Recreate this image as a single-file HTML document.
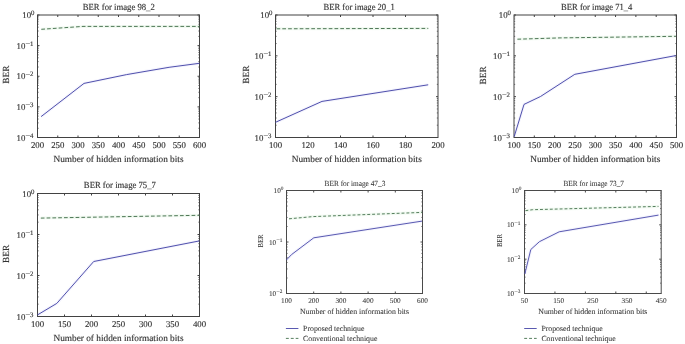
<!DOCTYPE html>
<html><head><meta charset="utf-8"><style>
html,body{margin:0;padding:0;background:#fff;width:685px;height:344px;overflow:hidden}
svg{display:block;text-rendering:geometricPrecision}
text{font-family:'Liberation Serif', 'DejaVu Serif', serif;fill:#333333;stroke:#333333;stroke-width:0.15px}
.s text,text.s{fill:#3a3a3a;stroke:#3a3a3a;stroke-width:0.08px}
</style></head><body>
<svg width="685" height="344" viewBox="0 0 685 344">
<rect width="685" height="344" fill="#fff"/>
<g class="b">
<rect x="37.5" y="15" width="162" height="122.5" fill="none" stroke="#424242" stroke-width="1"/>
<path d="M57.75 137.5V135.5M57.75 15V17M78 137.5V135.5M78 15V17M98.25 137.5V135.5M98.25 15V17M118.5 137.5V135.5M118.5 15V17M138.75 137.5V135.5M138.75 15V17M159 137.5V135.5M159 15V17M179.25 137.5V135.5M179.25 15V17M37.5 15H39.5M199.5 15H197.5M37.5 45.62H39.5M199.5 45.62H197.5M37.5 76.25H39.5M199.5 76.25H197.5M37.5 106.88H39.5M199.5 106.88H197.5M37.5 137.5H39.5M199.5 137.5H197.5" stroke="#424242" stroke-width="1" fill="none"/>
<path d="M37.5 36.41H38.7M199.5 36.41H198.3M37.5 31.01H38.7M199.5 31.01H198.3M37.5 27.19H38.7M199.5 27.19H198.3M37.5 24.22H38.7M199.5 24.22H198.3M37.5 21.79H38.7M199.5 21.79H198.3M37.5 19.74H38.7M199.5 19.74H198.3M37.5 17.97H38.7M199.5 17.97H198.3M37.5 16.4H38.7M199.5 16.4H198.3M37.5 67.03H38.7M199.5 67.03H198.3M37.5 61.64H38.7M199.5 61.64H198.3M37.5 57.81H38.7M199.5 57.81H198.3M37.5 54.84H38.7M199.5 54.84H198.3M37.5 52.42H38.7M199.5 52.42H198.3M37.5 50.37H38.7M199.5 50.37H198.3M37.5 48.59H38.7M199.5 48.59H198.3M37.5 47.03H38.7M199.5 47.03H198.3M37.5 97.66H38.7M199.5 97.66H198.3M37.5 92.26H38.7M199.5 92.26H198.3M37.5 88.44H38.7M199.5 88.44H198.3M37.5 85.47H38.7M199.5 85.47H198.3M37.5 83.04H38.7M199.5 83.04H198.3M37.5 80.99H38.7M199.5 80.99H198.3M37.5 79.22H38.7M199.5 79.22H198.3M37.5 77.65H38.7M199.5 77.65H198.3M37.5 128.28H38.7M199.5 128.28H198.3M37.5 122.89H38.7M199.5 122.89H198.3M37.5 119.06H38.7M199.5 119.06H198.3M37.5 116.09H38.7M199.5 116.09H198.3M37.5 113.67H38.7M199.5 113.67H198.3M37.5 111.62H38.7M199.5 111.62H198.3M37.5 109.84H38.7M199.5 109.84H198.3M37.5 108.28H38.7M199.5 108.28H198.3" stroke="#424242" stroke-width="0.7" fill="none"/>
<polyline points="41.3,29.3 83,26.4 199.5,26.4" fill="none" stroke="rgba(110,200,110,0.09)" stroke-width="3"/>
<polyline points="41.1,116.6 84,83.4 126.6,74.6 169.1,67.3 199.5,63.3" fill="none" stroke="rgba(120,120,230,0.08)" stroke-width="3" stroke-linejoin="round"/>
<polyline points="41.3,29.3 83,26.4 199.5,26.4" fill="none" stroke="#44704d" stroke-width="0.95" stroke-dasharray="3.7 2.1"/>
<polyline points="41.1,116.6 84,83.4 126.6,74.6 169.1,67.3 199.5,63.3" fill="none" stroke="#4747a8" stroke-width="0.95" stroke-linejoin="round"/>
<text x="37.5" y="148.1" font-size="8.8" text-anchor="middle">200</text>
<text x="57.75" y="148.1" font-size="8.8" text-anchor="middle">250</text>
<text x="78" y="148.1" font-size="8.8" text-anchor="middle">300</text>
<text x="98.25" y="148.1" font-size="8.8" text-anchor="middle">350</text>
<text x="118.5" y="148.1" font-size="8.8" text-anchor="middle">400</text>
<text x="138.75" y="148.1" font-size="8.8" text-anchor="middle">450</text>
<text x="159" y="148.1" font-size="8.8" text-anchor="middle">500</text>
<text x="179.25" y="148.1" font-size="8.8" text-anchor="middle">550</text>
<text x="199.5" y="148.1" font-size="8.8" text-anchor="middle">600</text>
<text x="34.5" y="18" font-size="8.8" text-anchor="end">10<tspan font-size="6.8" dy="-3">0</tspan></text>
<text x="33.5" y="48.62" font-size="8.8" text-anchor="end">10<tspan font-size="8.3" dy="-2.4">−</tspan><tspan font-size="6.8" dy="-0.6">1</tspan></text>
<text x="33.5" y="79.25" font-size="8.8" text-anchor="end">10<tspan font-size="8.3" dy="-2.4">−</tspan><tspan font-size="6.8" dy="-0.6">2</tspan></text>
<text x="33.5" y="109.88" font-size="8.8" text-anchor="end">10<tspan font-size="8.3" dy="-2.4">−</tspan><tspan font-size="6.8" dy="-0.6">3</tspan></text>
<text x="33.5" y="140.5" font-size="8.8" text-anchor="end">10<tspan font-size="8.3" dy="-2.4">−</tspan><tspan font-size="6.8" dy="-0.6">4</tspan></text>
<text x="118.75" y="9.5" font-size="9.3" text-anchor="middle" textLength="72" lengthAdjust="spacingAndGlyphs">BER for image 98_2</text>
<text x="118.5" y="162.2" font-size="9.3" text-anchor="middle">Number of hidden information bits</text>
<text transform="translate(9.1,74.6) rotate(-90)" font-size="9.3" text-anchor="middle">BER</text>
</g>
<g class="b">
<rect x="275.5" y="15" width="162.5" height="122.5" fill="none" stroke="#424242" stroke-width="1"/>
<path d="M308 137.5V135.5M308 15V17M340.5 137.5V135.5M340.5 15V17M373 137.5V135.5M373 15V17M405.5 137.5V135.5M405.5 15V17M275.5 15H277.5M438 15H436M275.5 55.83H277.5M438 55.83H436M275.5 96.67H277.5M438 96.67H436M275.5 137.5H277.5M438 137.5H436" stroke="#424242" stroke-width="1" fill="none"/>
<path d="M275.5 43.54H276.7M438 43.54H436.8M275.5 36.35H276.7M438 36.35H436.8M275.5 31.25H276.7M438 31.25H436.8M275.5 27.29H276.7M438 27.29H436.8M275.5 24.06H276.7M438 24.06H436.8M275.5 21.33H276.7M438 21.33H436.8M275.5 18.96H276.7M438 18.96H436.8M275.5 16.87H276.7M438 16.87H436.8M275.5 84.37H276.7M438 84.37H436.8M275.5 77.18H276.7M438 77.18H436.8M275.5 72.08H276.7M438 72.08H436.8M275.5 68.13H276.7M438 68.13H436.8M275.5 64.89H276.7M438 64.89H436.8M275.5 62.16H276.7M438 62.16H436.8M275.5 59.79H276.7M438 59.79H436.8M275.5 57.7H276.7M438 57.7H436.8M275.5 125.21H276.7M438 125.21H436.8M275.5 118.02H276.7M438 118.02H436.8M275.5 112.92H276.7M438 112.92H436.8M275.5 108.96H276.7M438 108.96H436.8M275.5 105.73H276.7M438 105.73H436.8M275.5 102.99H276.7M438 102.99H436.8M275.5 100.62H276.7M438 100.62H436.8M275.5 98.54H276.7M438 98.54H436.8" stroke="#424242" stroke-width="0.7" fill="none"/>
<polyline points="276.5,28.8 428.3,28.4" fill="none" stroke="rgba(110,200,110,0.09)" stroke-width="3"/>
<polyline points="275.5,122.3 322,101.4 428.2,84.8" fill="none" stroke="rgba(120,120,230,0.08)" stroke-width="3" stroke-linejoin="round"/>
<polyline points="276.5,28.8 428.3,28.4" fill="none" stroke="#44704d" stroke-width="0.95" stroke-dasharray="3.7 2.1"/>
<polyline points="275.5,122.3 322,101.4 428.2,84.8" fill="none" stroke="#4747a8" stroke-width="0.95" stroke-linejoin="round"/>
<text x="275.5" y="148.1" font-size="8.8" text-anchor="middle">100</text>
<text x="308" y="148.1" font-size="8.8" text-anchor="middle">120</text>
<text x="340.5" y="148.1" font-size="8.8" text-anchor="middle">140</text>
<text x="373" y="148.1" font-size="8.8" text-anchor="middle">160</text>
<text x="405.5" y="148.1" font-size="8.8" text-anchor="middle">180</text>
<text x="438" y="148.1" font-size="8.8" text-anchor="middle">200</text>
<text x="272.5" y="18" font-size="8.8" text-anchor="end">10<tspan font-size="6.8" dy="-3">0</tspan></text>
<text x="271.5" y="58.83" font-size="8.8" text-anchor="end">10<tspan font-size="8.3" dy="-2.4">−</tspan><tspan font-size="6.8" dy="-0.6">1</tspan></text>
<text x="271.5" y="99.67" font-size="8.8" text-anchor="end">10<tspan font-size="8.3" dy="-2.4">−</tspan><tspan font-size="6.8" dy="-0.6">2</tspan></text>
<text x="271.5" y="140.5" font-size="8.8" text-anchor="end">10<tspan font-size="8.3" dy="-2.4">−</tspan><tspan font-size="6.8" dy="-0.6">3</tspan></text>
<text x="359.15" y="9.5" font-size="9.3" text-anchor="middle" textLength="71.2" lengthAdjust="spacingAndGlyphs">BER for image 20_1</text>
<text x="356.75" y="162.2" font-size="9.3" text-anchor="middle">Number of hidden information bits</text>
<text transform="translate(248.7,74.6) rotate(-90)" font-size="9.3" text-anchor="middle">BER</text>
</g>
<g class="b">
<rect x="514" y="15" width="162.5" height="122.5" fill="none" stroke="#424242" stroke-width="1"/>
<path d="M534.31 137.5V135.5M534.31 15V17M554.62 137.5V135.5M554.62 15V17M574.94 137.5V135.5M574.94 15V17M595.25 137.5V135.5M595.25 15V17M615.56 137.5V135.5M615.56 15V17M635.88 137.5V135.5M635.88 15V17M656.19 137.5V135.5M656.19 15V17M514 15H516M676.5 15H674.5M514 55.83H516M676.5 55.83H674.5M514 96.67H516M676.5 96.67H674.5M514 137.5H516M676.5 137.5H674.5" stroke="#424242" stroke-width="1" fill="none"/>
<path d="M514 43.54H515.2M676.5 43.54H675.3M514 36.35H515.2M676.5 36.35H675.3M514 31.25H515.2M676.5 31.25H675.3M514 27.29H515.2M676.5 27.29H675.3M514 24.06H515.2M676.5 24.06H675.3M514 21.33H515.2M676.5 21.33H675.3M514 18.96H515.2M676.5 18.96H675.3M514 16.87H515.2M676.5 16.87H675.3M514 84.37H515.2M676.5 84.37H675.3M514 77.18H515.2M676.5 77.18H675.3M514 72.08H515.2M676.5 72.08H675.3M514 68.13H515.2M676.5 68.13H675.3M514 64.89H515.2M676.5 64.89H675.3M514 62.16H515.2M676.5 62.16H675.3M514 59.79H515.2M676.5 59.79H675.3M514 57.7H515.2M676.5 57.7H675.3M514 125.21H515.2M676.5 125.21H675.3M514 118.02H515.2M676.5 118.02H675.3M514 112.92H515.2M676.5 112.92H675.3M514 108.96H515.2M676.5 108.96H675.3M514 105.73H515.2M676.5 105.73H675.3M514 102.99H515.2M676.5 102.99H675.3M514 100.62H515.2M676.5 100.62H675.3M514 98.54H515.2M676.5 98.54H675.3" stroke="#424242" stroke-width="0.7" fill="none"/>
<polyline points="517.4,39.2 560,37.9 675.8,36.3" fill="none" stroke="rgba(110,200,110,0.09)" stroke-width="3"/>
<polyline points="514.2,136.6 524,104.4 540.5,96.5 574.8,74.3 675.8,55.6" fill="none" stroke="rgba(120,120,230,0.08)" stroke-width="3" stroke-linejoin="round"/>
<polyline points="517.4,39.2 560,37.9 675.8,36.3" fill="none" stroke="#44704d" stroke-width="0.95" stroke-dasharray="3.7 2.1"/>
<polyline points="514.2,136.6 524,104.4 540.5,96.5 574.8,74.3 675.8,55.6" fill="none" stroke="#4747a8" stroke-width="0.95" stroke-linejoin="round"/>
<text x="514" y="148.1" font-size="8.8" text-anchor="middle">100</text>
<text x="534.31" y="148.1" font-size="8.8" text-anchor="middle">150</text>
<text x="554.62" y="148.1" font-size="8.8" text-anchor="middle">200</text>
<text x="574.94" y="148.1" font-size="8.8" text-anchor="middle">250</text>
<text x="595.25" y="148.1" font-size="8.8" text-anchor="middle">300</text>
<text x="615.56" y="148.1" font-size="8.8" text-anchor="middle">350</text>
<text x="635.88" y="148.1" font-size="8.8" text-anchor="middle">400</text>
<text x="656.19" y="148.1" font-size="8.8" text-anchor="middle">450</text>
<text x="676.5" y="148.1" font-size="8.8" text-anchor="middle">500</text>
<text x="511" y="18" font-size="8.8" text-anchor="end">10<tspan font-size="6.8" dy="-3">0</tspan></text>
<text x="510" y="58.83" font-size="8.8" text-anchor="end">10<tspan font-size="8.3" dy="-2.4">−</tspan><tspan font-size="6.8" dy="-0.6">1</tspan></text>
<text x="510" y="99.67" font-size="8.8" text-anchor="end">10<tspan font-size="8.3" dy="-2.4">−</tspan><tspan font-size="6.8" dy="-0.6">2</tspan></text>
<text x="510" y="140.5" font-size="8.8" text-anchor="end">10<tspan font-size="8.3" dy="-2.4">−</tspan><tspan font-size="6.8" dy="-0.6">3</tspan></text>
<text x="596.7" y="9.5" font-size="9.3" text-anchor="middle" textLength="71.3" lengthAdjust="spacingAndGlyphs">BER for image 71_4</text>
<text x="595.25" y="162.2" font-size="9.3" text-anchor="middle">Number of hidden information bits</text>
<text transform="translate(486.2,75.4) rotate(-90)" font-size="9.3" text-anchor="middle">BER</text>
</g>
<g class="b">
<rect x="37.5" y="193.5" width="162" height="123" fill="none" stroke="#424242" stroke-width="1"/>
<path d="M64.5 316.5V314.5M64.5 193.5V195.5M91.5 316.5V314.5M91.5 193.5V195.5M118.5 316.5V314.5M118.5 193.5V195.5M145.5 316.5V314.5M145.5 193.5V195.5M172.5 316.5V314.5M172.5 193.5V195.5M37.5 193.5H39.5M199.5 193.5H197.5M37.5 234.5H39.5M199.5 234.5H197.5M37.5 275.5H39.5M199.5 275.5H197.5M37.5 316.5H39.5M199.5 316.5H197.5" stroke="#424242" stroke-width="1" fill="none"/>
<path d="M37.5 222.16H38.7M199.5 222.16H198.3M37.5 214.94H38.7M199.5 214.94H198.3M37.5 209.82H38.7M199.5 209.82H198.3M37.5 205.84H38.7M199.5 205.84H198.3M37.5 202.6H38.7M199.5 202.6H198.3M37.5 199.85H38.7M199.5 199.85H198.3M37.5 197.47H38.7M199.5 197.47H198.3M37.5 195.38H38.7M199.5 195.38H198.3M37.5 263.16H38.7M199.5 263.16H198.3M37.5 255.94H38.7M199.5 255.94H198.3M37.5 250.82H38.7M199.5 250.82H198.3M37.5 246.84H38.7M199.5 246.84H198.3M37.5 243.6H38.7M199.5 243.6H198.3M37.5 240.85H38.7M199.5 240.85H198.3M37.5 238.47H38.7M199.5 238.47H198.3M37.5 236.38H38.7M199.5 236.38H198.3M37.5 304.16H38.7M199.5 304.16H198.3M37.5 296.94H38.7M199.5 296.94H198.3M37.5 291.82H38.7M199.5 291.82H198.3M37.5 287.84H38.7M199.5 287.84H198.3M37.5 284.6H38.7M199.5 284.6H198.3M37.5 281.85H38.7M199.5 281.85H198.3M37.5 279.47H38.7M199.5 279.47H198.3M37.5 277.38H38.7M199.5 277.38H198.3" stroke="#424242" stroke-width="0.7" fill="none"/>
<polyline points="40.8,218.1 199.5,215.3" fill="none" stroke="rgba(110,200,110,0.09)" stroke-width="3"/>
<polyline points="37.5,314.9 56.8,303.4 93.7,261.5 199.5,240.9" fill="none" stroke="rgba(120,120,230,0.08)" stroke-width="3" stroke-linejoin="round"/>
<polyline points="40.8,218.1 199.5,215.3" fill="none" stroke="#44704d" stroke-width="0.95" stroke-dasharray="3.7 2.1"/>
<polyline points="37.5,314.9 56.8,303.4 93.7,261.5 199.5,240.9" fill="none" stroke="#4747a8" stroke-width="0.95" stroke-linejoin="round"/>
<text x="37.5" y="327.1" font-size="8.8" text-anchor="middle">100</text>
<text x="64.5" y="327.1" font-size="8.8" text-anchor="middle">150</text>
<text x="91.5" y="327.1" font-size="8.8" text-anchor="middle">200</text>
<text x="118.5" y="327.1" font-size="8.8" text-anchor="middle">250</text>
<text x="145.5" y="327.1" font-size="8.8" text-anchor="middle">300</text>
<text x="172.5" y="327.1" font-size="8.8" text-anchor="middle">350</text>
<text x="199.5" y="327.1" font-size="8.8" text-anchor="middle">400</text>
<text x="34.5" y="196.5" font-size="8.8" text-anchor="end">10<tspan font-size="6.8" dy="-3">0</tspan></text>
<text x="33.5" y="237.5" font-size="8.8" text-anchor="end">10<tspan font-size="8.3" dy="-2.4">−</tspan><tspan font-size="6.8" dy="-0.6">1</tspan></text>
<text x="33.5" y="278.5" font-size="8.8" text-anchor="end">10<tspan font-size="8.3" dy="-2.4">−</tspan><tspan font-size="6.8" dy="-0.6">2</tspan></text>
<text x="33.5" y="319.5" font-size="8.8" text-anchor="end">10<tspan font-size="8.3" dy="-2.4">−</tspan><tspan font-size="6.8" dy="-0.6">3</tspan></text>
<text x="119.85" y="188" font-size="9.3" text-anchor="middle" textLength="72" lengthAdjust="spacingAndGlyphs">BER for image 75_7</text>
<text x="118.5" y="341.2" font-size="9.3" text-anchor="middle">Number of hidden information bits</text>
<text transform="translate(9.2,253.9) rotate(-90)" font-size="9.3" text-anchor="middle">BER</text>
</g>
<g class="s">
<rect x="286.5" y="190.5" width="136" height="103" fill="none" stroke="#4a4a4a" stroke-width="1"/>
<path d="M313.7 293.5V291.5M313.7 190.5V192.5M340.9 293.5V291.5M340.9 190.5V192.5M368.1 293.5V291.5M368.1 190.5V192.5M395.3 293.5V291.5M395.3 190.5V192.5M286.5 190.5H288.5M422.5 190.5H420.5M286.5 242H288.5M422.5 242H420.5M286.5 293.5H288.5M422.5 293.5H420.5" stroke="#4a4a4a" stroke-width="1" fill="none"/>
<path d="M286.5 226.5H287.7M422.5 226.5H421.3M286.5 217.43H287.7M422.5 217.43H421.3M286.5 210.99H287.7M422.5 210.99H421.3M286.5 206H287.7M422.5 206H421.3M286.5 201.93H287.7M422.5 201.93H421.3M286.5 198.48H287.7M422.5 198.48H421.3M286.5 195.49H287.7M422.5 195.49H421.3M286.5 192.86H287.7M422.5 192.86H421.3M286.5 278H287.7M422.5 278H421.3M286.5 268.93H287.7M422.5 268.93H421.3M286.5 262.49H287.7M422.5 262.49H421.3M286.5 257.5H287.7M422.5 257.5H421.3M286.5 253.43H287.7M422.5 253.43H421.3M286.5 249.98H287.7M422.5 249.98H421.3M286.5 246.99H287.7M422.5 246.99H421.3M286.5 244.36H287.7M422.5 244.36H421.3" stroke="#4a4a4a" stroke-width="0.7" fill="none"/>
<polyline points="289,218.8 313,216.6 422.1,212.4" fill="none" stroke="rgba(110,200,110,0.09)" stroke-width="3"/>
<polyline points="286.5,259.9 291.5,254.6 313.8,237.8 422.1,221.1" fill="none" stroke="rgba(120,120,230,0.08)" stroke-width="3" stroke-linejoin="round"/>
<polyline points="289,218.8 313,216.6 422.1,212.4" fill="none" stroke="#44704d" stroke-width="0.9" stroke-dasharray="2.9 2.0"/>
<polyline points="286.5,259.9 291.5,254.6 313.8,237.8 422.1,221.1" fill="none" stroke="#4747a8" stroke-width="0.9" stroke-linejoin="round"/>
<text x="286.5" y="302.8" font-size="7.3" text-anchor="middle">100</text>
<text x="313.7" y="302.8" font-size="7.3" text-anchor="middle">200</text>
<text x="340.9" y="302.8" font-size="7.3" text-anchor="middle">300</text>
<text x="368.1" y="302.8" font-size="7.3" text-anchor="middle">400</text>
<text x="395.3" y="302.8" font-size="7.3" text-anchor="middle">500</text>
<text x="422.5" y="302.8" font-size="7.3" text-anchor="middle">600</text>
<text x="283.5" y="193" font-size="7.3" text-anchor="end">10<tspan font-size="5.3" dy="-2.7">0</tspan></text>
<text x="282.5" y="244.5" font-size="7.3" text-anchor="end">10<tspan font-size="6.47" dy="-2.2">−</tspan><tspan font-size="5.3" dy="-0.5">1</tspan></text>
<text x="282.5" y="296" font-size="7.3" text-anchor="end">10<tspan font-size="6.47" dy="-2.2">−</tspan><tspan font-size="5.3" dy="-0.5">2</tspan></text>
<text x="354.95" y="185.7" font-size="7.8" text-anchor="middle" textLength="60.7" lengthAdjust="spacingAndGlyphs">BER for image 47_3</text>
<text x="354.5" y="314.1" font-size="7.8" text-anchor="middle">Number of hidden information bits</text>
<text transform="translate(263.1,241) rotate(-90)" font-size="7.6" text-anchor="middle" textLength="13.0" lengthAdjust="spacingAndGlyphs">BER</text>
</g>
<g class="s">
<rect x="524.5" y="190.5" width="136.7" height="103" fill="none" stroke="#4a4a4a" stroke-width="1"/>
<path d="M554.94 293.5V291.5M554.94 190.5V192.5M585.38 293.5V291.5M585.38 190.5V192.5M615.82 293.5V291.5M615.82 190.5V192.5M646.26 293.5V291.5M646.26 190.5V192.5M524.5 190.5H526.5M661.2 190.5H659.2M524.5 224.83H526.5M661.2 224.83H659.2M524.5 259.17H526.5M661.2 259.17H659.2M524.5 293.5H526.5M661.2 293.5H659.2" stroke="#4a4a4a" stroke-width="1" fill="none"/>
<path d="M524.5 214.5H525.7M661.2 214.5H660M524.5 208.45H525.7M661.2 208.45H660M524.5 204.16H525.7M661.2 204.16H660M524.5 200.84H525.7M661.2 200.84H660M524.5 198.12H525.7M661.2 198.12H660M524.5 195.82H525.7M661.2 195.82H660M524.5 193.83H525.7M661.2 193.83H660M524.5 192.07H525.7M661.2 192.07H660M524.5 248.83H525.7M661.2 248.83H660M524.5 242.79H525.7M661.2 242.79H660M524.5 238.5H525.7M661.2 238.5H660M524.5 235.17H525.7M661.2 235.17H660M524.5 232.45H525.7M661.2 232.45H660M524.5 230.15H525.7M661.2 230.15H660M524.5 228.16H525.7M661.2 228.16H660M524.5 226.4H525.7M661.2 226.4H660M524.5 283.16H525.7M661.2 283.16H660M524.5 277.12H525.7M661.2 277.12H660M524.5 272.83H525.7M661.2 272.83H660M524.5 269.5H525.7M661.2 269.5H660M524.5 266.78H525.7M661.2 266.78H660M524.5 264.48H525.7M661.2 264.48H660M524.5 262.49H525.7M661.2 262.49H660M524.5 260.74H525.7M661.2 260.74H660" stroke="#4a4a4a" stroke-width="0.7" fill="none"/>
<polyline points="525.4,210.7 532.5,209.7 658.5,206.4" fill="none" stroke="rgba(110,200,110,0.09)" stroke-width="3"/>
<polyline points="524.8,274 530.8,249.5 539.4,241.7 559.2,231.8 658.5,215.1" fill="none" stroke="rgba(120,120,230,0.08)" stroke-width="3" stroke-linejoin="round"/>
<polyline points="525.4,210.7 532.5,209.7 658.5,206.4" fill="none" stroke="#44704d" stroke-width="0.9" stroke-dasharray="2.9 2.0"/>
<polyline points="524.8,274 530.8,249.5 539.4,241.7 559.2,231.8 658.5,215.1" fill="none" stroke="#4747a8" stroke-width="0.9" stroke-linejoin="round"/>
<text x="524.5" y="302.8" font-size="7.3" text-anchor="middle">50</text>
<text x="558.67" y="302.8" font-size="7.3" text-anchor="middle">150</text>
<text x="592.85" y="302.8" font-size="7.3" text-anchor="middle">250</text>
<text x="627.03" y="302.8" font-size="7.3" text-anchor="middle">350</text>
<text x="661.2" y="302.8" font-size="7.3" text-anchor="middle">450</text>
<text x="521.5" y="193" font-size="7.3" text-anchor="end">10<tspan font-size="5.3" dy="-2.7">0</tspan></text>
<text x="520.5" y="227.33" font-size="7.3" text-anchor="end">10<tspan font-size="6.47" dy="-2.2">−</tspan><tspan font-size="5.3" dy="-0.5">1</tspan></text>
<text x="520.5" y="261.67" font-size="7.3" text-anchor="end">10<tspan font-size="6.47" dy="-2.2">−</tspan><tspan font-size="5.3" dy="-0.5">2</tspan></text>
<text x="520.5" y="296" font-size="7.3" text-anchor="end">10<tspan font-size="6.47" dy="-2.2">−</tspan><tspan font-size="5.3" dy="-0.5">3</tspan></text>
<text x="593.7" y="185.7" font-size="7.8" text-anchor="middle" textLength="60.6" lengthAdjust="spacingAndGlyphs">BER for image 73_7</text>
<text x="592.85" y="314.1" font-size="7.8" text-anchor="middle">Number of hidden information bits</text>
<text transform="translate(502.3,240.6) rotate(-90)" font-size="7.6" text-anchor="middle" textLength="13.0" lengthAdjust="spacingAndGlyphs">BER</text>
</g>
<line x1="285.9" y1="328.5" x2="298.4" y2="328.5" stroke="#4747a8" stroke-width="0.9"/>
<line x1="285.9" y1="338.4" x2="298.4" y2="338.4" stroke="#44704d" stroke-width="0.9" stroke-dasharray="2.9 2"/>
<text x="303.1" y="331.0" font-size="7.8" class="s">Proposed technique</text>
<text x="303.1" y="340.7" font-size="7.8" class="s">Conventional technique</text>
<line x1="524.2" y1="328.5" x2="536.7" y2="328.5" stroke="#4747a8" stroke-width="0.9"/>
<line x1="524.2" y1="338.4" x2="536.7" y2="338.4" stroke="#44704d" stroke-width="0.9" stroke-dasharray="2.9 2"/>
<text x="541.4" y="331.0" font-size="7.8" class="s">Proposed technique</text>
<text x="541.4" y="340.7" font-size="7.8" class="s">Conventional technique</text>
</svg>
</body></html>
